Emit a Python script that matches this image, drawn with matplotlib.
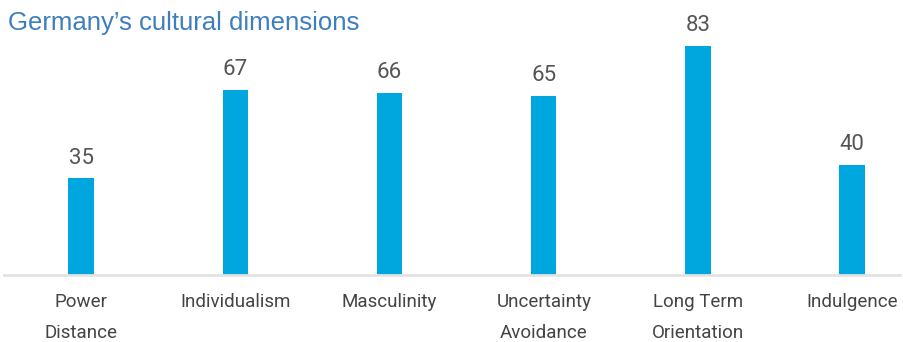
import matplotlib
matplotlib.use("Agg")
import matplotlib.pyplot as plt

categories = ["Power\nDistance", "Individualism", "Masculinity",
              "Uncertainty\nAvoidance", "Long Term\nOrientation", "Indulgence"]
scores = [35, 67, 66, 65, 83, 40]
title = "Germany\u2019s cultural dimensions"

W, H = 904, 342
fig = plt.figure(figsize=(W / 100, H / 100), dpi=100)

# axes placed in pixel terms: baseline at y=275 from top, 2.76 px per point
base_y = 275
ppu = 2.76
ymax = 90
left, right = 4, 900
ax = fig.add_axes([left / W, (H - base_y) / H, (right - left) / W, ymax * ppu / H])

x = list(range(len(scores)))
ax.bar(x, scores, width=0.165, color="#00a6de")
ax.set_xlim(-0.5, 5.31)
ax.set_ylim(0, ymax)

for xi, v in zip(x, scores):
    ax.text(xi, v + 3.5, str(v), ha="center", va="bottom",
            fontsize=16, color="#555555", family="Roboto")

ax.set_xticks(x)
ax.set_xticklabels(categories, fontsize=13.5, color="#444444", family="Roboto",
                   linespacing=1.9)
ax.tick_params(axis="x", length=0, pad=13)
ax.set_yticks([])
for s in ["top", "left", "right"]:
    ax.spines[s].set_visible(False)
ax.spines["bottom"].set_color("#e3e3e3")
ax.spines["bottom"].set_linewidth(2)

fig.text(8 / W, 1 - 30 / H, title, fontsize=18.5, color="#3d7ebf",
         family="Liberation Sans", va="baseline", ha="left")

fig.savefig("out.png", dpi=100)
